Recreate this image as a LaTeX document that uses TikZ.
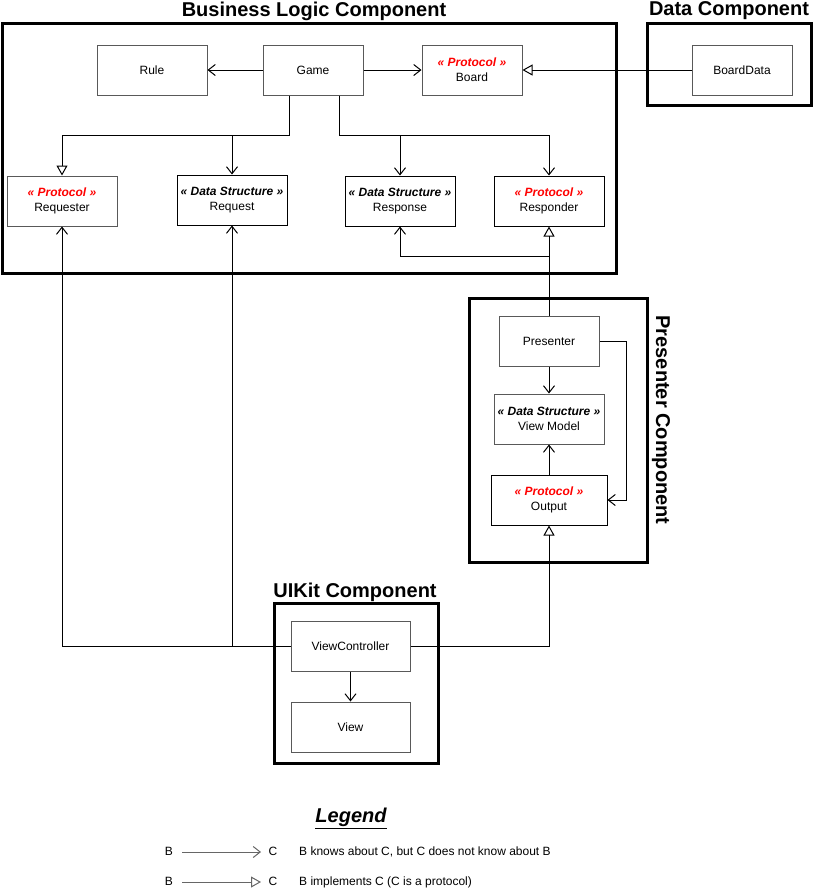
\documentclass[tikz,border=0pt]{standalone}
\usepackage{fontspec}
\setmainfont{Liberation Sans}
\usetikzlibrary{arrows.meta}
\definecolor{proto}{RGB}{255,0,0}
\newcommand{\fsn}{\fontsize{12}{15}\selectfont}
\newcommand{\fst}{\fontsize{20}{24}\selectfont\bfseries}
\newcommand{\protolbl}{{\color{proto}\bfseries\itshape « Protocol »}}
\newcommand{\dslbl}{{\bfseries\itshape « Data Structure »}}
\begin{document}
\begin{tikzpicture}[x=1pt,y=-1pt,
  cls/.style={draw=black!65, line width=1pt, fill=white, inner sep=0pt, align=center, font=\fsn, minimum height=50pt},
  clsk/.style={cls, draw=black},
  comp/.style={draw=black, line width=3pt},
  ttl/.style={font=\fst, inner sep=0pt},
  knows/.style={line width=1pt, -{Straight Barb[length=7pt,width=11pt]}},
  impl/.style={line width=1pt, -{Triangle[open,length=10pt,width=11pt]}},
]
\useasboundingbox (0,0) rectangle (814,895);
\fill[white] (0,0) rectangle (814,895);

% component boxes
\draw[comp] (2,23) rectangle (616,273);
\draw[comp] (647,23) rectangle (811,105);
\draw[comp] (469,298) rectangle (647,562);
\draw[comp] (274,603) rectangle (438,763);

\node[ttl] (tbl) at (314,11) {Business Logic Component};
\node[ttl] (tdc) at (729,11) {Data Component};
\node[ttl, rotate=-90] (tpc) at (661,420) {Presenter Component};
\node[ttl] (tuk) at (355,592) {UIKit Component};

% classes
\node[cls, minimum width=110pt] (rule) at (152,70) {Rule};
\node[cls, minimum width=100pt] (game) at (313,70) {Game};
\node[cls, minimum width=100pt] (board) at (472,70) {\protolbl\\Board};
\node[cls, minimum width=100pt] (boarddata) at (742,70) {BoardData};

\node[cls, minimum width=110pt] (requester) at (62,201) {\protolbl\\Requester};
\node[clsk, minimum width=110pt] (request) at (232,200) {\dslbl\\Request};
\node[clsk, minimum width=110pt] (response) at (400,201) {\dslbl\\Response};
\node[clsk, minimum width=110pt] (responder) at (549,201) {\protolbl\\Responder};

\node[cls, minimum width=100pt] (presenter) at (549,341) {Presenter};
\node[cls, minimum width=110pt] (viewmodel) at (549,419) {\dslbl\\View Model};
\node[clsk, minimum width=116pt] (output) at (549,500) {\protolbl\\Output};

\node[cls, minimum width=119pt] (vc) at (350.5,646) {ViewController};
\node[cls, minimum width=119pt] (view) at (350.5,727) {View};

% junction coordinates
\coordinate (j1) at (289,135);
\coordinate (j2) at (339,135);
\coordinate (j3) at (549,256);
\coordinate (j4) at (626,341);

% connectors
\draw[knows] (game.west) -- (rule.east);
\draw[knows] (game.east) -- (board.west);
\draw[impl] (boarddata.west) -- (board.east);

\draw[impl] (game.south -| j1) -- (j1) -| (requester.north);
\draw[knows] (request.north |- j1) -- (request.north);
\draw[knows] (game.south -| j2) -- (j2) -| (responder.north);
\draw[knows] (response.north |- j2) -- (response.north);

\draw[impl] (presenter.north) -- (responder.south);
\draw[knows] (j3) -| (response.south);

\draw[knows] (presenter.south) -- (viewmodel.north);
\draw[knows] (output.north) -- (viewmodel.south);
\draw[knows] (presenter.east) -- (j4) |- (output.east);

\draw[knows] (vc.south) -- (view.north);
\draw[knows] (vc.west) -| (requester.south);
\draw[knows] (request.south |- vc.west) -- (request.south);
\draw[impl] (vc.east) -| (output.south);

% legend
\node[font=\fst\itshape, inner sep=0pt] (leg) at (351,818) {\underline{Legend}};
\node[font=\fsn, inner sep=0pt] (b1) at (169,851) {B};
\node[font=\fsn, inner sep=0pt] (c1) at (273,851) {C};
\node[font=\fsn, inner sep=0pt, anchor=west] (t1) at (299,852) {B knows about C, but C does not know about B};
\node[font=\fsn, inner sep=0pt] (b2) at (169,881) {B};
\node[font=\fsn, inner sep=0pt] (c2) at (273,881) {C};
\node[font=\fsn, inner sep=0pt, anchor=west] (t2) at (299,882) {B implements C (C is a protocol)};
\coordinate (l1a) at (182,852);
\coordinate (l1b) at (261,852);
\coordinate (l2a) at (182,882);
\coordinate (l2b) at (261,882);
\draw[knows, draw=black!60] (l1a) -- (l1b);
\draw[impl, draw=black!60] (l2a) -- (l2b);
\end{tikzpicture}
\end{document}
